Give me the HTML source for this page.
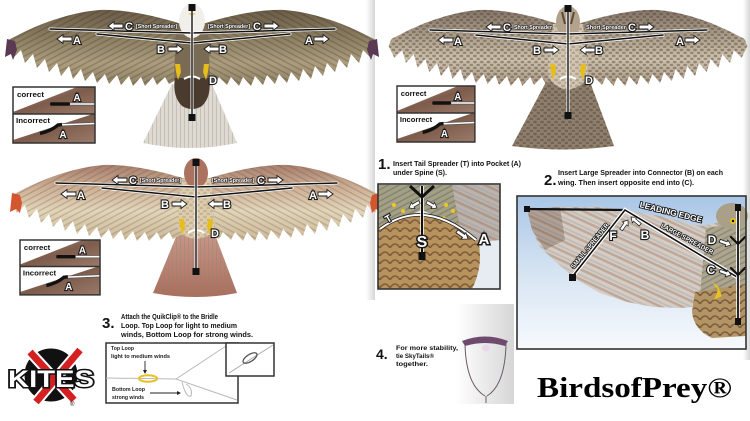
<!DOCTYPE html>
<html><head><meta charset="utf-8"><style>
html,body{margin:0;padding:0;background:#fff;}
svg{display:block;}
.lb{font-family:"Liberation Sans",sans-serif;font-weight:bold;font-size:11px;fill:#fff;stroke:#1a1a1a;stroke-width:2.2px;paint-order:stroke;text-anchor:middle;}
.ss{font-family:"Liberation Sans",sans-serif;font-weight:bold;font-size:5.5px;fill:#fff;stroke:#222;stroke-width:1.1px;paint-order:stroke;}
.ar{fill:#fff;stroke:#1a1a1a;stroke-width:0.9px;}
.tx{font-family:"Liberation Sans",sans-serif;font-weight:bold;fill:#111;}
.sm{font-family:"Liberation Sans",sans-serif;font-weight:bold;fill:#222;font-size:5.5px;}
</style></head><body>
<svg width="750" height="421" viewBox="0 0 750 421" xmlns="http://www.w3.org/2000/svg">
<defs>
<path id="wing" d="M -10 24 L -17 22 C -40 15 -70 9 -92 10 C -120 12 -150 23 -170 33 L -182 39 L -185 46 L -179 58 L -171 50 L -167 63 L -159 54 L -155 68 L -147 59 L -143 72 L -135 63 L -131 76 L -123 66 L -119 79 L -111 69 L -107 81 L -99 72 L -95 83 L -87 74 L -83 84 L -75 75 L -71 85 L -63 76 L -59 86 L -51 77 L -47 86 L -39 77 L -35 85 L -27 77 L -23 84 L -16 80 L -10 80 Z"/>
<path id="arL" d="M0 0 L6 -4.5 L6 -2 L15 -2 L15 2 L6 2 L6 4.5 Z"/>
<linearGradient id="gE" gradientUnits="userSpaceOnUse" x1="0" y1="10" x2="0" y2="86">
<stop offset="0" stop-color="#6a5c48"/><stop offset=".35" stop-color="#8a7c60"/><stop offset=".7" stop-color="#ab9d7d"/><stop offset="1" stop-color="#8e8064"/></linearGradient>
<linearGradient id="gH" gradientUnits="userSpaceOnUse" x1="0" y1="10" x2="0" y2="86">
<stop offset="0" stop-color="#85766a"/><stop offset=".35" stop-color="#ada08c"/><stop offset=".65" stop-color="#cec2ae"/><stop offset="1" stop-color="#a89884"/></linearGradient>
<linearGradient id="gR" gradientUnits="userSpaceOnUse" x1="0" y1="10" x2="0" y2="86">
<stop offset="0" stop-color="#a87e6c"/><stop offset=".3" stop-color="#cdb096"/><stop offset=".6" stop-color="#e2d5b8"/><stop offset="1" stop-color="#cbb898"/></linearGradient>
<linearGradient id="gT" x1="0" y1="0" x2="0" y2="1">
<stop offset="0" stop-color="#c89a8c"/><stop offset="1" stop-color="#aa6e5c"/></linearGradient>
<linearGradient id="sky" x1="0" y1="0" x2="0" y2="1">
<stop offset="0" stop-color="#a9c6e6"/><stop offset=".5" stop-color="#d6e4f2"/><stop offset="1" stop-color="#f7fafd"/></linearGradient>
<linearGradient id="gry" x1="0" y1="0" x2="1" y2="0">
<stop offset="0" stop-color="#fff"/><stop offset="1" stop-color="#d6d6d6"/></linearGradient>
<linearGradient id="ins" x1="0" y1="0" x2="1" y2="1">
<stop offset="0" stop-color="#a88c80"/><stop offset=".5" stop-color="#7e5c4c"/><stop offset="1" stop-color="#9a7a6a"/></linearGradient>
<pattern id="stE" patternUnits="userSpaceOnUse" width="5" height="5" patternTransform="rotate(62)"><rect width="1.5" height="5" fill="#2e2418" fill-opacity=".22"/></pattern>
<pattern id="stR" patternUnits="userSpaceOnUse" width="5" height="5" patternTransform="rotate(62)"><rect width="1.4" height="5" fill="#5a4a3a" fill-opacity=".24"/></pattern>
<pattern id="spH" patternUnits="userSpaceOnUse" width="7" height="6"><ellipse cx="2" cy="2" rx="2" ry="1.4" fill="#4e3e30" fill-opacity=".42"/><ellipse cx="5.5" cy="5" rx="2" ry="1.4" fill="#4e3e30" fill-opacity=".42"/></pattern>
<pattern id="tailSt" patternUnits="userSpaceOnUse" width="4" height="10"><rect width="1" height="10" fill="#8a8478" fill-opacity=".3"/></pattern>
<pattern id="st2" patternUnits="userSpaceOnUse" width="9" height="9" patternTransform="rotate(-65)"><rect width="2.5" height="9" fill="#8a5e4c" fill-opacity=".32"/><rect x="4" width="2" height="9" fill="#8090a8" fill-opacity=".25"/></pattern>
<pattern id="scl" patternUnits="userSpaceOnUse" width="10" height="8"><path d="M0 8 Q5 0 10 8" fill="none" stroke="#4a3020" stroke-width="1.6" stroke-opacity=".55"/></pattern>
</defs>

<rect width="750" height="421" fill="#fff"/>
<rect x="366" y="0" width="9" height="300" fill="url(#gry)"/>
<rect x="743" y="0" width="7" height="360" fill="url(#gry)"/>

<!-- EAGLE -->
<g transform="translate(192,0)">
<path d="M -20 84 L -49 143 Q -2 153 45 143 L 20 84 Z" fill="#dedad2"/>
<path d="M -20 84 L -49 143 Q -2 153 45 143 L 20 84 Z" fill="url(#tailSt)"/>
<use href="#wing" fill="url(#gE)"/><use href="#wing" fill="url(#stE)"/>
<use href="#wing" fill="url(#gE)" transform="scale(-1,1)"/><use href="#wing" fill="url(#stE)" transform="scale(-1,1)"/>
<path d="M -177 41 L -185 39 L -187 57 L -181 54 L -179 60 L -175 50 Z" fill="#5a3a52"/>
<path d="M 177 41 L 185 39 L 187 57 L 181 54 L 179 60 L 175 50 Z" fill="#5a3a52"/>
<path d="M -16 24 L 16 24 L 18 80 L -18 80 Z" fill="#7a6c54"/>
<path d="M -17 78 L 17 78 Q 20 96 10 106 Q 0 112 -10 106 Q -20 96 -17 78 Z" fill="#4a3b2e"/>
<ellipse cx="0" cy="21" rx="13" ry="17" fill="#f1efe9"/>
<path d="M -3 13 L 3 13 L 0 19 Z" fill="#e0b020"/>
<path d="M-17 64 L-12 64 L-11 72 L-14 80 L-16 72 Z" fill="#e6bd1c"/>
<path d="M17 64 L12 64 L11 72 L14 80 L16 72 Z" fill="#e6bd1c"/>
<path d="M-8 79 Q0 74 8 79" stroke="#fff" stroke-width="2" fill="none"/>
<g fill="none" stroke-linecap="round">
<polyline points="-142,29 0,33 143,29" stroke="#fff" stroke-width="3"/><polyline points="-142,29 0,33 143,29" stroke="#111" stroke-width="1.5"/>
<polyline points="-95,34 0,43 98,34" stroke="#fff" stroke-width="3"/><polyline points="-95,34 0,43 98,34" stroke="#111" stroke-width="1.5"/>
<line x1="0" y1="7" x2="0" y2="117" stroke="#fff" stroke-width="3"/><line x1="0" y1="7" x2="0" y2="117" stroke="#111" stroke-width="1.4"/>
</g>
<rect x="-3.5" y="4" width="7" height="7" fill="#111"/><rect x="-3.5" y="114" width="7" height="7" fill="#111"/>
<use href="#arL" class="ar" transform="translate(-84,26)"/>
<text class="lb" x="-63" y="30">C</text>
<text class="ss" x="-56" y="28" textLength="41" lengthAdjust="spacingAndGlyphs">[Short Spreader]</text>
<text class="ss" x="16" y="28" textLength="42" lengthAdjust="spacingAndGlyphs">[Short Spreader]</text>
<text class="lb" x="65" y="30">C</text>
<use href="#arL" class="ar" transform="translate(87,26) scale(-1,1)"/>
<use href="#arL" class="ar" transform="translate(-135,39)"/>
<text class="lb" x="-115" y="44">A</text>
<text class="lb" x="117" y="44">A</text>
<use href="#arL" class="ar" transform="translate(137,39) scale(-1,1)"/>
<text class="lb" x="-31" y="53">B</text>
<use href="#arL" class="ar" transform="translate(-9,49) scale(-1,1)"/>
<use href="#arL" class="ar" transform="translate(12,49)"/>
<text class="lb" x="31" y="53">B</text>
<text class="lb" x="21" y="84">D</text>
</g>

<!-- HAWK -->
<g transform="translate(568,0)">
<path d="M -22 82 Q 0 72 22 82 L 46 146 Q -5 153 -56 146 Z" fill="#8f806e"/>
<path d="M -22 82 Q 0 72 22 82 L 46 146 Q -5 153 -56 146 Z" fill="url(#spH)"/>
<g transform="scale(0.97,1)">
<use href="#wing" fill="url(#gH)"/><use href="#wing" fill="url(#spH)"/>
<use href="#wing" fill="url(#gH)" transform="scale(-1,1)"/><use href="#wing" fill="url(#spH)" transform="scale(-1,1)"/>
</g>
<path d="M -15 24 L 15 24 L 20 70 Q 20 86 0 90 Q -20 86 -20 70 Z" fill="#d2c6b2"/>
<path d="M -15 24 L 15 24 L 20 70 Q 20 86 0 90 Q -20 86 -20 70 Z" fill="url(#spH)" opacity=".6"/>
<ellipse cx="0" cy="22" rx="12" ry="16" fill="#b3a38c"/>
<path d="M-6 12 L-3 24 M6 12 L3 24" stroke="#5a4838" stroke-width="2"/>
<path d="M-18 64 L-13 64 L-12 72 L-15 80 L-17 72 Z" fill="#e6bd1c"/>
<path d="M18 64 L13 64 L12 72 L15 80 L17 72 Z" fill="#e6bd1c"/>
<path d="M-8 79 Q0 74 8 79" stroke="#fff" stroke-width="2" fill="none"/>
<g fill="none" stroke-linecap="round">
<polyline points="-138,30 0,34 139,30" stroke="#fff" stroke-width="3"/><polyline points="-138,30 0,34 139,30" stroke="#111" stroke-width="1.5"/>
<polyline points="-92,35 0,44 95,35" stroke="#fff" stroke-width="3"/><polyline points="-92,35 0,44 95,35" stroke="#111" stroke-width="1.5"/>
<line x1="0" y1="8" x2="0" y2="115" stroke="#fff" stroke-width="3"/><line x1="0" y1="8" x2="0" y2="115" stroke="#111" stroke-width="1.4"/>
</g>
<rect x="-3.5" y="5" width="7" height="7" fill="#111"/><rect x="-3.5" y="112" width="7" height="7" fill="#111"/>
<use href="#arL" class="ar" transform="translate(-82,27)"/>
<text class="lb" x="-61" y="31">C</text>
<text class="ss" x="-54" y="29" textLength="38" lengthAdjust="spacingAndGlyphs">Short Spreader</text>
<text class="ss" x="18" y="29" textLength="40" lengthAdjust="spacingAndGlyphs">Short Spreader</text>
<text class="lb" x="64" y="31">C</text>
<use href="#arL" class="ar" transform="translate(86,27) scale(-1,1)"/>
<use href="#arL" class="ar" transform="translate(-130,40)"/>
<text class="lb" x="-110" y="45">A</text>
<text class="lb" x="112" y="45">A</text>
<use href="#arL" class="ar" transform="translate(132,40) scale(-1,1)"/>
<text class="lb" x="-31" y="54">B</text>
<use href="#arL" class="ar" transform="translate(-9,50) scale(-1,1)"/>
<use href="#arL" class="ar" transform="translate(12,50)"/>
<text class="lb" x="31" y="54">B</text>
<text class="lb" x="21" y="84">D</text>
</g>

<!-- RED TAIL -->
<g transform="translate(196,155)">
<path d="M -18 77 Q 0 70 18 77 L 41 138 Q 0 146 -43 138 Z" fill="url(#gT)"/>
<path d="M -18 77 Q 0 70 18 77 L 41 138 Q 0 146 -43 138 Z" fill="url(#tailSt)"/>
<use href="#wing" fill="url(#gR)"/><use href="#wing" fill="url(#stR)"/>
<use href="#wing" fill="url(#gR)" transform="scale(-1,1)"/><use href="#wing" fill="url(#stR)" transform="scale(-1,1)"/>
<path d="M -176 40 L -184 38 L -186 57 L -180 54 L -176 58 L -174 48 Z" fill="#d4562e"/>
<path d="M 176 40 L 184 38 L 186 57 L 180 54 L 176 58 L 174 48 Z" fill="#d4562e"/>
<path d="M -15 24 L 15 24 L 19 70 Q 18 82 0 84 Q -18 82 -19 70 Z" fill="#ddcdac"/>
<path d="M -15 24 L 15 24 L 19 70 Q 18 82 0 84 Q -18 82 -19 70 Z" fill="url(#spH)" opacity=".4"/>
<ellipse cx="0" cy="18" rx="12" ry="15" fill="#ac7260"/>
<path d="M-17 64 L-12 64 L-11 72 L-14 80 L-16 72 Z" fill="#e6bd1c"/>
<path d="M17 64 L12 64 L11 72 L14 80 L16 72 Z" fill="#e6bd1c"/>
<path d="M-8 78 Q0 72 8 78" stroke="#fff" stroke-width="2" fill="none"/>
<g fill="none" stroke-linecap="round">
<polyline points="-140,28 0,32 141,28" stroke="#fff" stroke-width="3"/><polyline points="-140,28 0,32 141,28" stroke="#111" stroke-width="1.5"/>
<polyline points="-94,33 0,42 96,33" stroke="#fff" stroke-width="3"/><polyline points="-94,33 0,42 96,33" stroke="#111" stroke-width="1.5"/>
<line x1="0" y1="7" x2="0" y2="116" stroke="#fff" stroke-width="3"/><line x1="0" y1="7" x2="0" y2="116" stroke="#111" stroke-width="1.4"/>
</g>
<rect x="-3.5" y="4" width="7" height="7" fill="#111"/><rect x="-3.5" y="113" width="7" height="7" fill="#111"/>
<use href="#arL" class="ar" transform="translate(-84,25)"/>
<text class="lb" x="-63" y="29">C</text>
<text class="ss" x="-56" y="27" textLength="41" lengthAdjust="spacingAndGlyphs">[Short Spreader]</text>
<text class="ss" x="16" y="27" textLength="42" lengthAdjust="spacingAndGlyphs">[Short Spreader]</text>
<text class="lb" x="65" y="29">C</text>
<use href="#arL" class="ar" transform="translate(87,25) scale(-1,1)"/>
<use href="#arL" class="ar" transform="translate(-135,39)"/>
<text class="lb" x="-115" y="44">A</text>
<text class="lb" x="117" y="44">A</text>
<use href="#arL" class="ar" transform="translate(137,39) scale(-1,1)"/>
<text class="lb" x="-31" y="53">B</text>
<use href="#arL" class="ar" transform="translate(-9,49) scale(-1,1)"/>
<use href="#arL" class="ar" transform="translate(12,49)"/>
<text class="lb" x="31" y="53">B</text>
<text class="lb" x="19" y="82">D</text>
</g>

<!-- INSETS -->
<g transform="translate(13,87)">
<rect width="82" height="56" fill="#fff"/>
<polygon points="0,27 0,25 64,0 82,0 82,27" fill="url(#ins)"/>
<polygon points="0,56 0,53 80,27 82,27 82,56" fill="url(#ins)"/>
<line x1="37" y1="17" x2="82" y2="17" stroke="#555" stroke-width="3"/><line x1="37" y1="17" x2="82" y2="17" stroke="#fff" stroke-width="1.6"/>
<rect x="37" y="15.3" width="20" height="3.4" rx="1.5" fill="#111"/>
<text class="lb" x="64" y="14" style="font-size:10px">A</text>
<path d="M 27 46 Q 38 44 45 38 L 82 36.5" fill="none" stroke="#555" stroke-width="3"/><path d="M 27 46 Q 38 44 45 38 L 82 36.5" fill="none" stroke="#fff" stroke-width="1.6"/>
<path d="M 27 46.5 Q 38 44 45 38 L 49 37.5" fill="none" stroke="#111" stroke-width="3.4"/>
<text class="lb" x="50" y="51" style="font-size:10px">A</text>
<line x1="0" y1="27" x2="82" y2="27" stroke="#333" stroke-width="1.5"/>
<text class="tx" x="4" y="10" font-size="7.5" textLength="27" lengthAdjust="spacingAndGlyphs">correct</text>
<text class="tx" x="3" y="36" font-size="7.5" textLength="34" lengthAdjust="spacingAndGlyphs">Incorrect</text>
<rect width="82" height="56" fill="none" stroke="#333" stroke-width="1.5"/>
</g>
<g transform="translate(397,86) scale(0.95,1)">
<rect width="82" height="56" fill="#fff"/>
<polygon points="0,27 0,25 64,0 82,0 82,27" fill="url(#ins)"/>
<polygon points="0,56 0,53 80,27 82,27 82,56" fill="url(#ins)"/>
<line x1="37" y1="17" x2="82" y2="17" stroke="#555" stroke-width="3"/><line x1="37" y1="17" x2="82" y2="17" stroke="#fff" stroke-width="1.6"/>
<rect x="37" y="15.3" width="20" height="3.4" rx="1.5" fill="#111"/>
<text class="lb" x="64" y="14" style="font-size:10px">A</text>
<path d="M 27 46 Q 38 44 45 38 L 82 36.5" fill="none" stroke="#555" stroke-width="3"/><path d="M 27 46 Q 38 44 45 38 L 82 36.5" fill="none" stroke="#fff" stroke-width="1.6"/>
<path d="M 27 46.5 Q 38 44 45 38 L 49 37.5" fill="none" stroke="#111" stroke-width="3.4"/>
<text class="lb" x="50" y="51" style="font-size:10px">A</text>
<line x1="0" y1="27" x2="82" y2="27" stroke="#333" stroke-width="1.5"/>
<text class="tx" x="4" y="10" font-size="7.5" textLength="27" lengthAdjust="spacingAndGlyphs">correct</text>
<text class="tx" x="3" y="36" font-size="7.5" textLength="34" lengthAdjust="spacingAndGlyphs">Incorrect</text>
<rect width="82" height="56" fill="none" stroke="#333" stroke-width="1.5"/>
</g>
<g transform="translate(20,240) scale(0.976,0.98)">
<rect width="82" height="56" fill="#fff"/>
<polygon points="0,27 0,25 64,0 82,0 82,27" fill="url(#ins)"/>
<polygon points="0,56 0,53 80,27 82,27 82,56" fill="url(#ins)"/>
<line x1="37" y1="17" x2="82" y2="17" stroke="#555" stroke-width="3"/><line x1="37" y1="17" x2="82" y2="17" stroke="#fff" stroke-width="1.6"/>
<rect x="37" y="15.3" width="20" height="3.4" rx="1.5" fill="#111"/>
<text class="lb" x="64" y="14" style="font-size:10px">A</text>
<path d="M 27 46 Q 38 44 45 38 L 82 36.5" fill="none" stroke="#555" stroke-width="3"/><path d="M 27 46 Q 38 44 45 38 L 82 36.5" fill="none" stroke="#fff" stroke-width="1.6"/>
<path d="M 27 46.5 Q 38 44 45 38 L 49 37.5" fill="none" stroke="#111" stroke-width="3.4"/>
<text class="lb" x="50" y="51" style="font-size:10px">A</text>
<line x1="0" y1="27" x2="82" y2="27" stroke="#333" stroke-width="1.5"/>
<text class="tx" x="4" y="10" font-size="7.5" textLength="27" lengthAdjust="spacingAndGlyphs">correct</text>
<text class="tx" x="3" y="36" font-size="7.5" textLength="34" lengthAdjust="spacingAndGlyphs">Incorrect</text>
<rect width="82" height="56" fill="none" stroke="#333" stroke-width="1.5"/>
</g>

<!-- STEP 1 -->
<text class="tx" x="378" y="169" font-size="15">1.</text>
<text class="tx" x="393" y="166" font-size="7.5" textLength="128" lengthAdjust="spacingAndGlyphs">Insert Tail Spreader (T) into Pocket (A)</text>
<text class="tx" x="393" y="175" font-size="7.5" textLength="54" lengthAdjust="spacingAndGlyphs">under Spine (S).</text>
<rect x="378" y="184" width="122" height="105" fill="#e6ecf2"/>
<polygon points="445,185 500,185 500,240 480,242 460,228" fill="#bcb4ac"/>
<polygon points="445,185 500,185 500,240 480,242 460,228" fill="url(#st2)"/>
<polygon points="378,185 452,185 460,228 422,210 378,228" fill="#a2a086"/>
<polygon points="378,185 452,185 460,228 422,210 378,228" fill="url(#stE)"/>
<g fill="#f0c818"><circle cx="394" cy="205" r="2"/><circle cx="403" cy="211" r="2"/><circle cx="400" cy="219" r="1.6"/><circle cx="446" cy="205" r="2"/><circle cx="453" cy="211" r="2"/><circle cx="444" cy="218" r="1.6"/><circle cx="410" cy="225" r="1.5"/><circle cx="436" cy="226" r="1.5"/></g>
<path d="M 378 227 Q 425 198 478 240 Q 484 265 472 289 L 378 289 Z" fill="#b8925c"/>
<path d="M 378 227 Q 425 198 478 240 Q 484 265 472 289 L 378 289 Z" fill="url(#scl)"/>
<path d="M 380 229 Q 424 196 476 240" fill="none" stroke="#222" stroke-width="3.5"/>
<path d="M 380 229 Q 424 196 476 240" fill="none" stroke="#fff" stroke-width="2"/>
<line x1="422" y1="186" x2="422" y2="254" stroke="#fff" stroke-width="3.5"/><line x1="422" y1="186" x2="422" y2="254" stroke="#111" stroke-width="2"/>
<rect x="418.5" y="252" width="7" height="8" fill="#111"/>
<path d="M 410 186 L 422 197 L 434 186" fill="none" stroke="#111" stroke-width="3"/>
<text class="lb" x="388" y="222" style="font-size:10px" transform="rotate(-30 388 218)">T</text>
<text class="lb" x="422" y="247" style="font-size:16px;stroke-width:3px">S</text>
<text class="lb" x="484" y="244" style="font-size:15px;stroke-width:3px">A</text>
<use href="#arL" class="ar" transform="translate(409,208) rotate(-30) scale(0.8)"/>
<use href="#arL" class="ar" transform="translate(437,208) rotate(210) scale(0.8)"/>
<use href="#arL" class="ar" transform="translate(468,239) rotate(215) scale(0.9)"/>
<rect x="378" y="184" width="122" height="105" fill="none" stroke="#333" stroke-width="1.6"/>

<!-- STEP 2 -->
<text class="tx" x="544" y="185" font-size="15">2.</text>
<text class="tx" x="558" y="175" font-size="7.5" textLength="165" lengthAdjust="spacingAndGlyphs">Insert Large Spreader into Connector (B) on each</text>
<text class="tx" x="558" y="185" font-size="7.5" textLength="136" lengthAdjust="spacingAndGlyphs">wing. Then insert opposite end into (C).</text>
<rect x="517" y="196" width="229" height="153" fill="url(#sky)"/>
<path d="M 527 209 L 560 207 L 600 207 L 625 210 L 660 216 L 700 226 L 712 224 L 746 215 L 746 300 L 700 300 L 693 307 L 680 308 L 653 307 L 627 302 L 600 293 L 577 280 L 557 263 L 540 247 L 532 230 Z" fill="#d6ccc2"/>
<path d="M 527 209 L 560 207 L 600 207 L 625 210 L 660 216 L 700 226 L 712 224 L 746 215 L 746 300 L 700 300 L 693 307 L 680 308 L 653 307 L 627 302 L 600 293 L 577 280 L 557 263 L 540 247 L 532 230 Z" fill="url(#st2)"/>
<path d="M 527 209 L 560 207 L 565 240 L 545 250 L 532 230 Z" fill="#5a4030" fill-opacity=".3"/>
<path d="M 706 228 L 746 222 L 746 290 L 700 295 Z" fill="#aca690"/>
<path d="M 706 228 L 746 222 L 746 290 L 700 295 Z" fill="url(#stE)"/>
<path d="M 695 292 L 746 284 L 746 336 L 712 338 Q 694 330 692 312 Z" fill="#b39464"/>
<path d="M 695 292 L 746 284 L 746 336 L 712 338 Q 694 330 692 312 Z" fill="url(#scl)"/>
<ellipse cx="732" cy="216" rx="16" ry="13" fill="#aaa088"/>
<circle cx="733" cy="221" r="3" fill="#e8c020"/><circle cx="733" cy="221" r="1.2" fill="#111"/>
<path d="M 712 282 L 718 290 L 714 300 L 722 296 L 718 286 Z" fill="#e8c020"/>
<line x1="527" y1="209" x2="625" y2="210" stroke="#111" stroke-width="2.2"/>
<g fill="none" stroke-linecap="round">
<polyline points="572,277 625,210 737,277" stroke="#fff" stroke-width="4"/>
<polyline points="572,277 625,210 737,277" stroke="#111" stroke-width="1.6"/>
<line x1="738" y1="207" x2="738" y2="322" stroke="#fff" stroke-width="3.5"/>
<line x1="738" y1="207" x2="738" y2="322" stroke="#111" stroke-width="1.8"/>
<path d="M 731 237 L 738 244 L 745 237 M 731 268 L 738 275 L 745 268" stroke="#111" stroke-width="2.2"/>
</g>
<rect x="524" y="206" width="6" height="6" fill="#111"/>
<rect x="569" y="274" width="7" height="7" fill="#111"/>
<rect x="735" y="204" width="6" height="7" fill="#111"/>
<rect x="735" y="318" width="6" height="7" fill="#111"/>
<text class="lb" x="671" y="215" style="font-size:8px;stroke-width:1.8px" transform="rotate(14 671 212)" textLength="64" lengthAdjust="spacingAndGlyphs">LEADING EDGE</text>
<text class="lb" x="687" y="241" style="font-size:6.5px;stroke-width:1.6px" transform="rotate(28 687 239)" textLength="58" lengthAdjust="spacingAndGlyphs">LARGE SPREADER</text>
<text class="lb" x="590" y="248" style="font-size:6.5px;stroke-width:1.6px" transform="rotate(-51 590 246)" textLength="56" lengthAdjust="spacingAndGlyphs">SMALL SPREADER</text>
<text class="lb" x="613" y="240" style="font-size:12px">F</text>
<use href="#arL" class="ar" transform="translate(628,220) rotate(125) scale(0.8)"/>
<text class="lb" x="645" y="239" style="font-size:12px">B</text>
<use href="#arL" class="ar" transform="translate(631,217) rotate(40) scale(0.8)"/>
<text class="lb" x="712" y="244" style="font-size:12px">D</text>
<use href="#arL" class="ar" transform="translate(731,245) rotate(200) scale(0.8)"/>
<text class="lb" x="711" y="274" style="font-size:12px">C</text>
<use href="#arL" class="ar" transform="translate(731,275) rotate(200) scale(0.8)"/>
<rect x="517" y="196" width="229" height="153" fill="none" stroke="#333" stroke-width="1.6"/>

<!-- STEP 3 -->
<text class="tx" x="102" y="328" font-size="15">3.</text>
<text class="tx" x="121" y="319" font-size="7.5" textLength="97" lengthAdjust="spacingAndGlyphs">Attach the QuikClip® to the Bridle</text>
<text class="tx" x="121" y="328" font-size="7.5" textLength="116" lengthAdjust="spacingAndGlyphs">Loop.  Top Loop for light to medium</text>
<text class="tx" x="121" y="337" font-size="7.5" textLength="132" lengthAdjust="spacingAndGlyphs">winds, Bottom Loop for strong winds.</text>
<rect x="106" y="343" width="132" height="60" fill="#fff" stroke="#333" stroke-width="1.5"/>
<g stroke="#b8b8b8" stroke-width="1" fill="none">
<path d="M 106 378 L 176 379 L 226 346"/>
<path d="M 176 379 L 237 400"/>
<path d="M 182 382 Q 186 398 191 396 Q 193 388 186 384"/>
</g>
<ellipse cx="148" cy="378.5" rx="9" ry="3.2" fill="none" stroke="#e8c020" stroke-width="2"/>
<text class="sm" x="111" y="350" textLength="23" lengthAdjust="spacingAndGlyphs">Top Loop</text>
<text class="sm" x="111" y="358" textLength="59" lengthAdjust="spacingAndGlyphs">light to medium winds</text>
<line x1="145" y1="361" x2="145" y2="371" stroke="#222" stroke-width="0.9"/>
<path d="M 143 370 L 145 374 L 147 370 Z" fill="#222"/>
<text class="sm" x="112" y="391" textLength="33" lengthAdjust="spacingAndGlyphs">Bottom Loop</text>
<text class="sm" x="112" y="399" textLength="32" lengthAdjust="spacingAndGlyphs">strong winds</text>
<line x1="150" y1="393" x2="178" y2="393" stroke="#222" stroke-width="0.9"/>
<path d="M 177 391 L 181 393 L 177 395 Z" fill="#222"/>
<rect x="226" y="343" width="48" height="33" fill="#fff" stroke="#333" stroke-width="1.5"/>
<line x1="229" y1="373" x2="273" y2="345" stroke="#aaa" stroke-width="1"/>
<ellipse cx="250" cy="358" rx="8" ry="3.5" transform="rotate(-33 250 358)" fill="none" stroke="#555" stroke-width="1.3"/>

<!-- STEP 4 -->
<rect x="456" y="304" width="58" height="100" fill="url(#gry)"/>
<text class="tx" x="376" y="359" font-size="14">4.</text>
<text class="tx" x="396" y="350" font-size="6.5" textLength="62" lengthAdjust="spacingAndGlyphs">For more stability,</text>
<text class="tx" x="396" y="358" font-size="6.5" textLength="38" lengthAdjust="spacingAndGlyphs">tie SkyTails®</text>
<text class="tx" x="396" y="366" font-size="6.5" textLength="32" lengthAdjust="spacingAndGlyphs">together.</text>
<path d="M 462 341 Q 485 332 508 341 L 505 346 Q 485 340 465 346 Z" fill="#6e4a6e"/>
<ellipse cx="486" cy="348" rx="4" ry="3.5" fill="#ead8ea"/>
<path d="M 465 344 Q 466 385 485 396 M 506 344 Q 505 385 487 396" fill="none" stroke="#6a5a66" stroke-width="1"/>
<line x1="486" y1="396" x2="486" y2="403" stroke="#6a5a66" stroke-width="1"/>

<!-- LOGO -->
<g>
<circle cx="51" cy="375" r="27" fill="#111" stroke="#fff" stroke-width="1"/>
<line x1="30" y1="352" x2="74" y2="400" stroke="#fff" stroke-width="11"/>
<line x1="80" y1="350" x2="36" y2="402" stroke="#fff" stroke-width="11"/>
<line x1="30" y1="352" x2="74" y2="400" stroke="#d42020" stroke-width="7"/>
<line x1="80" y1="350" x2="36" y2="402" stroke="#d42020" stroke-width="7"/>
<text x="8" y="387" font-family="Liberation Sans, sans-serif" font-weight="bold" font-size="24" fill="#fff" stroke="#111" stroke-width="3" paint-order="stroke" textLength="86" lengthAdjust="spacingAndGlyphs">KITES</text>
<text x="70" y="406" font-family="Liberation Sans, sans-serif" font-size="6" fill="#111">®</text>
</g>

<text x="537" y="397" font-family="Liberation Serif, serif" font-weight="bold" font-size="28" fill="#000" textLength="195" lengthAdjust="spacingAndGlyphs">BirdsofPrey®</text>
</svg>
</body></html>
